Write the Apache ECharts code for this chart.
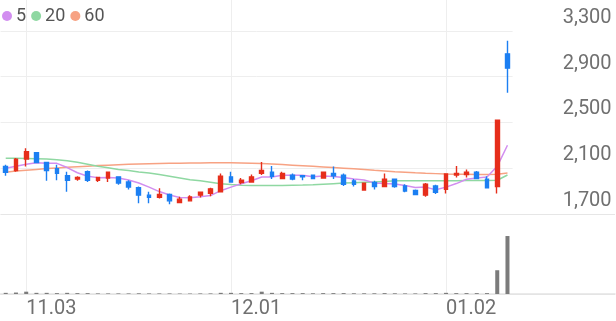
<!DOCTYPE html>
<html><head><meta charset="utf-8">
<script src="https://cdn.jsdelivr.net/npm/echarts@6/dist/echarts.min.js"></script>
<style>html,body{margin:0;padding:0;background:#fff}#c{width:616px;height:321px}</style>
</head><body><div id="c"></div>
<script>
const dates = ['10.30','10.31','11.03','11.04','11.05','11.06','11.07','11.10','11.11','11.12','11.13','11.14','11.17','11.18','11.19','11.20','11.21','11.24','11.25','11.26','11.27','11.28','12.01','12.02','12.03','12.04','12.05','12.08','12.09','12.10','12.11','12.12','12.15','12.16','12.17','12.18','12.19','12.22','12.23','12.24','12.26','12.29','12.30','01.02','01.05','01.06','01.07','01.08','01.09','01.12'];
const opens  = [2115,2080,2180,2235,2150,2095,2035,2005,2070,1995,2015,2025,1980,1930,1865,1845,1870,1800,1815,1865,1880,1895,2025,1975,1980,2055,2065,2010,2040,2035,2040,2015,2055,2040,1990,1910,1975,1940,2005,1945,1905,1865,1945,1915,2040,2045,2065,2005,1940,3100];
const closes = [2065,2180,2245,2150,2080,2055,1995,2020,1995,2020,2065,1970,1935,1865,1845,1870,1815,1830,1850,1890,1920,2030,1980,1995,2025,2080,2030,2055,2005,2025,2010,2065,2035,1960,1960,1970,1940,2005,1940,1900,1870,1960,1890,2050,2055,2065,2010,1930,2520,2975];
const lows   = [2035,2070,2115,2145,1990,1995,1895,1990,1980,1980,1980,1955,1915,1795,1795,1835,1785,1795,1810,1845,1855,1890,1980,1960,1975,2040,2005,2005,1995,1995,2005,2010,2005,1945,1940,1905,1915,1935,1930,1890,1865,1850,1875,1880,2020,2020,2005,1925,1880,2760];
const highs  = [2130,2190,2275,2240,2155,2130,2070,2030,2080,2025,2070,2030,1995,1940,1895,1925,1880,1850,1865,1895,1930,2055,2070,2015,2045,2155,2120,2070,2055,2035,2045,2070,2115,2055,2005,1975,1990,2055,2010,1960,1915,1970,1955,2055,2120,2090,2075,2030,2520,3215];
const ma5  = [2100,2118,2135,2148,2144,2143,2106,2061,2030,2018,2020,2014,1997,1971,1935,1896,1866,1845,1842,1851,1861,1904,1935,1964,1991,2023,2023,2038,2039,2039,2025,2032,2028,2019,2006,1998,1972,1966,1962,1950,1931,1935,1912,1935,1966,2004,2015,2023,2117,2301];
const ma20 = [2187,2187,2185,2183,2181,2175,2165,2152,2135,2118,2105,2090,2080,2068,2058,2045,2030,2015,2000,1990,1978,1965,1957,1952,1950,1950,1950,1950,1952,1953,1955,1960,1965,1970,1974,1978,1980,1985,1990,1991,1991,1991,1991,1991,1991,1992,1993,1993,1995,2041];
const ma60 = [2065,2075,2083,2090,2097,2103,2108,2113,2118,2123,2127,2131,2135,2138,2140,2142,2143,2144,2145,2146,2147,2147,2147,2146,2144,2141,2137,2132,2127,2122,2117,2112,2107,2101,2095,2089,2082,2076,2070,2065,2060,2056,2053,2050,2048,2047,2046,2046,2048,2058];
const volumes = [2,2.5,4,2,2,1.5,2,1.5,1.5,1,1,1,1,1.2,1,1,1,0.8,0.8,1,1,2,2,1.5,1.5,4,2,1.5,1.5,1.5,1.2,1.5,1.5,1.5,1.2,1.2,1.2,1.5,1.2,1,1,1.5,1.5,2,1.5,1.5,1.5,1.5,41,100];
const tickLabels = ['11.03','12.01','01.02'];
const maNames = ['5','20','60'];
const padSlots = ['p1','p2','p3','p4','p5','p6','p7','p8','p9','p10'];

const UP = '#e62e1b', DOWN = '#1c7ff2', GRIDC = '#eeeeee';
const candleData = dates.map((d, i) => [opens[i], closes[i], lows[i], highs[i]]);
const isTick = (i, v) => tickLabels.includes(v);

const chart = echarts.init(document.getElementById('c'), null, {renderer: 'canvas'});
chart.setOption({
  animation: false,
  backgroundColor: '#fff',
  textStyle: {fontFamily: 'Roboto'},
  legend: {
    data: maNames, left: 2, top: 7, padding: 0, icon: 'circle', itemWidth: 10, itemHeight: 10, itemGap: 5,
    textStyle: {fontSize: 18, color: '#555', fontFamily: 'Roboto', padding: [0, 0, 0, -1]}
  },
  grid: [
    {left: 0.6, top: 0, width: 512, height: 214},
    {left: 0.6, top: 214, width: 614.4, height: 80}
  ],
  xAxis: [
    {type: 'category', gridIndex: 0, data: dates, boundaryGap: true,
     axisLine: {show: false}, axisTick: {show: false}, axisLabel: {show: false},
     splitLine: {show: true, interval: isTick, alignWithLabel: true, lineStyle: {color: GRIDC, width: 1}}},
    {type: 'category', gridIndex: 1, data: dates.concat(padSlots), boundaryGap: true,
     axisLine: {show: true, lineStyle: {color: '#e3e3e3', width: 1.5}}, axisTick: {show: false},
     axisLabel: {show: true, interval: isTick, align: 'left', margin: 5, fontSize: 20, color: '#707070', fontFamily: 'Roboto'},
     splitLine: {show: true, interval: isTick, alignWithLabel: true, lineStyle: {color: GRIDC, width: 1}}}
  ],
  yAxis: [
    {type: 'value', gridIndex: 0, position: 'right', min: 1700, max: 3571, interval: 400,
     axisLine: {show: false}, axisTick: {show: false},
     axisLabel: {show: true, inside: false, align: 'right', verticalAlign: 'bottom', margin: 99, padding: [0,0,3,0],
       fontSize: 20, color: '#707070', fontFamily: 'Roboto',
       formatter: v => ((v - 1700) % 400 === 0 && v <= 3300) ? v.toLocaleString('en-US') : ''},
     splitLine: {show: true, lineStyle: {color: [GRIDC, GRIDC, GRIDC, GRIDC, GRIDC, 'rgba(0,0,0,0)'], width: 1}}},
    {type: 'value', gridIndex: 1, min: 0, max: 138, interval: 1000,
     axisLine: {show: false}, axisTick: {show: false}, axisLabel: {show: false},
     splitLine: {show: true, lineStyle: {color: '#e6e6e6', width: 1}}}
  ],
  series: [
    {name: '60', type: 'line', xAxisIndex: 0, yAxisIndex: 0, data: ma60, showSymbol: false, symbol: 'none', z: 2,
     lineStyle: {color: '#f7a283', width: 1.5}, itemStyle: {color: '#f7a283'}},
    {name: '20', type: 'line', xAxisIndex: 0, yAxisIndex: 0, data: ma20, showSymbol: false, symbol: 'none', z: 2,
     lineStyle: {color: '#8fd8a2', width: 1.5}, itemStyle: {color: '#8fd8a2'}},
    {name: '5', type: 'line', xAxisIndex: 0, yAxisIndex: 0, data: ma5, showSymbol: false, symbol: 'none', z: 2,
     lineStyle: {color: '#d28ef0', width: 1.5}, itemStyle: {color: '#d28ef0'}},
    {name: 'price', type: 'candlestick', xAxisIndex: 0, yAxisIndex: 0, data: candleData, barWidth: 4.2, z: 3,
     itemStyle: {color: UP, color0: DOWN, borderColor: UP, borderColor0: DOWN, borderWidth: 1.4}},
    {name: 'vol', type: 'bar', xAxisIndex: 1, yAxisIndex: 1, data: volumes, barWidth: 4,
     itemStyle: {color: '#7b7b7b'}}
  ]
});
</script></body></html>
